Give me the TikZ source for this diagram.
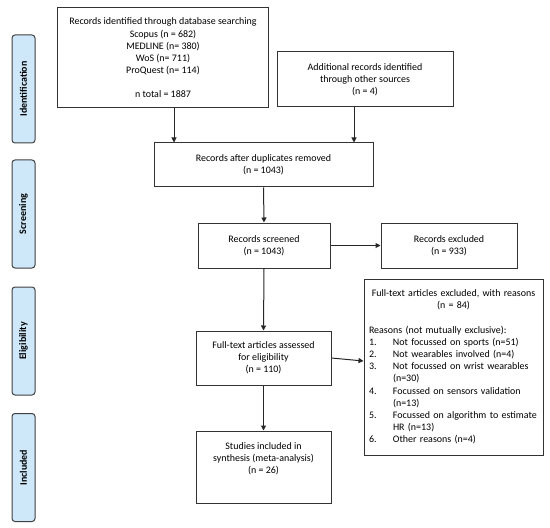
\documentclass[tikz,border=0pt]{standalone}
\usepackage{fontspec}
\setmainfont{Carlito}
\usetikzlibrary{arrows.meta}
\definecolor{phaseblue}{RGB}{206,232,250}
\begin{document}
\begin{tikzpicture}[x=1bp,y=-1bp,
    box/.style={draw=black!80,line width=1bp,align=center,inner sep=2bp,
      font=\fontsize{10}{12.2}\selectfont},
    phase/.style={draw=black!75,line width=1bp,fill=phaseblue,rounded corners=3bp,
      minimum width=108bp,minimum height=23bp,rotate=90,
      font=\bfseries\fontsize{10}{12}\selectfont},
    arr/.style={draw=black!85,line width=1bp,-{Triangle[length=5bp,width=5bp]}}]
  \useasboundingbox (0,0) rectangle (550,528);
  \node[phase] (ident) at (23.5,89) {Identification};
  \node[phase] (screen) at (23.5,214) {Screening};
  \node[phase] (elig) at (23.5,341) {Eligibility};
  \node[phase] (incl) at (23.5,467.5) {Included};
  \node[box,minimum width=210bp,minimum height=100bp] (db) at (163,58)
    {Records identified through database searching\\Scopus (n = 682)\\MEDLINE (n= 380)\\
     WoS (n= 711)\\ProQuest (n= 114)\\[12.2bp]n total = 1887};
  \node[box,minimum width=176bp,minimum height=55bp] (other) at (365,79.5)
    {Additional records identified\\through other sources\\(n = 4)};
  \node[box,minimum width=219bp,minimum height=44bp] (dup) at (263.5,165)
    {Records after duplicates removed\\(n = 1043)};
  \node[box,minimum width=132bp,minimum height=45bp] (screened) at (264,245.5)
    {Records screened\\(n = 1043)};
  \node[box,minimum width=136bp,minimum height=45bp] (excl) at (449,245.5)
    {Records excluded\\(n = 933)};
  \node[box,minimum width=135bp,minimum height=54bp] (fulltext) at (263.5,358)
    {Full-text articles assessed\\for eligibility\\(n = 110)};
  \node[box,align=left,text width=169bp,inner sep=5bp,minimum height=176bp] (reasons) at (453.5,367)
    {\makebox[\linewidth]{Full-text articles excluded, with reasons}\\
     \makebox[\linewidth]{(n = 84)}\\[12.2bp]
     Reasons (not mutually exclusive):\\
     \makebox[24bp][l]{1.}Not focussed on sports (n=51)\\
     \makebox[24bp][l]{2.}Not wearables involved (n=4)\\
     \makebox[24bp][l]{3.}Not focussed on wrist wearables\\
     \hspace*{24bp}(n=30)\\
     \makebox[24bp][l]{4.}Focussed on sensors validation\\
     \hspace*{24bp}(n=13)\\
     \makebox[24bp][l]{5.}Focussed on algorithm to estimate\\
     \hspace*{24bp}HR (n=13)\\
     \makebox[24bp][l]{6.}Other reasons (n=4)};
  \node[box,minimum width=135bp,minimum height=72bp] (studies) at (263.5,467)
    {Studies included in\\synthesis (meta-analysis)\\(n = 26)\\[6bp]\mbox{}};
  \draw[arr] ([xshift=11bp]db.south) -- ([xshift=11bp]db.south |- dup.north);
  \draw[arr] ([xshift=-11bp]other.south) -- ([xshift=-11bp]other.south |- dup.north);
  \draw[arr] (dup.south) -- (screened.north);
  \draw[arr] (screened.east) -- (excl.west);
  \draw[arr] (screened.south) -- (fulltext.north);
  \draw[arr] (fulltext.east) -- ([yshift=-3bp]fulltext.east -| reasons.west);
  \draw[arr] (fulltext.south) -- (studies.north);
\end{tikzpicture}
\end{document}
